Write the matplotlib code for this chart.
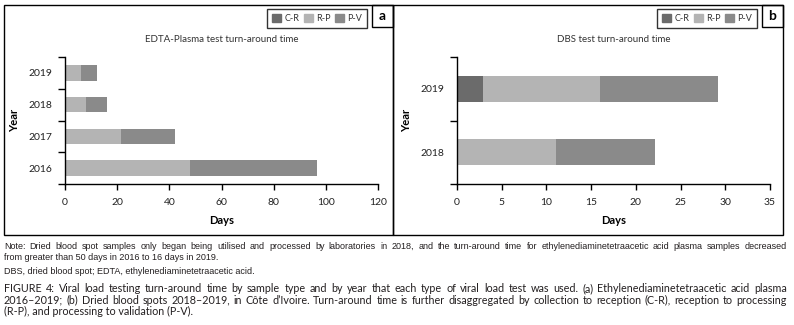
import matplotlib
matplotlib.use('Agg')
import matplotlib.pyplot as plt
from matplotlib.patches import Rectangle, Patch
from matplotlib import font_manager
import numpy as np

# data (days)
years_a = ['2016', '2017', '2018', '2019']
cr_a = [0, 0, 0, 0]
rp_a = [47.9, 21.3, 8.0, 6.1]
pv_a = [48.6, 20.8, 8.1, 6.2]

years_b = ['2018', '2019']
cr_b = [0, 2.9]
rp_b = [11.1, 13.1]
pv_b = [11.05, 13.2]

series = ['C-R', 'R-P', 'P-V']
colors = ['#6b6b6b', '#b4b4b4', '#8a8a8a']

W, H = 794, 325
plt.rcParams['font.family'] = ['Lato', 'DejaVu Sans']
fig = plt.figure(figsize=(W / 100, H / 100), dpi=100)


def fx(px):
    return px / W


def fy(py):
    return 1 - py / H


def panel(left, right, years, cr, rp, pv, xmax, step, title, bar_h):
    ax = fig.add_axes([fx(left), fy(184), fx(right) - fx(left), (184 - 57) / H])
    y = np.arange(len(years))
    ax.barh(y, cr, height=bar_h, color=colors[0])
    ax.barh(y, rp, left=cr, height=bar_h, color=colors[1])
    ax.barh(y, pv, left=np.add(cr, rp), height=bar_h, color=colors[2])
    ax.set_ylim(-0.5, len(years) - 0.5)
    ax.set_xlim(0, xmax)
    ax.set_xticks(np.arange(0, xmax + 1, step))
    ax.set_yticks(y)
    ax.set_yticklabels(years)
    ax.set_yticks(np.arange(len(years) + 1) - 0.5, minor=True)
    ax.tick_params(axis='y', which='major', length=0, pad=9, labelsize=7.5,
                   labelcolor='#222222')
    ax.tick_params(axis='y', which='minor', length=5, width=1, direction='out')
    ax.tick_params(axis='x', length=4, width=1, direction='out', pad=6,
                   labelsize=7.5, labelcolor='#222222')
    for s in ['top', 'right']:
        ax.spines[s].set_visible(False)
    for s in ['left', 'bottom']:
        ax.spines[s].set_linewidth(1)
    ax.set_xlabel('Days', fontweight='bold', fontsize=8, labelpad=6)
    ax.set_ylabel('Year', fontweight='bold', fontsize=8, labelpad=6)
    ax.set_title(title, fontsize=7, pad=11, color='#333333')
    return ax


ax_a = panel(65, 378, years_a, cr_a, rp_a, pv_a, 120, 20,
             'EDTA-Plasma test turn-around time', 0.49)
ax_b = panel(457, 770, years_b, cr_b, rp_b, pv_b, 35, 5,
             'DBS test turn-around time', 0.41)

# panel frames, legends and letters
for x0, x1, letter in [(4, 393, 'a'), (393, 783, 'b')]:
    fig.add_artist(Rectangle((fx(x0), fy(235)), fx(x1) - fx(x0), (235 - 5) / H,
                             transform=fig.transFigure, fill=False, lw=1, ec='black'))
    fig.add_artist(Rectangle((fx(x1 - 21), fy(27)), fx(21), 22 / H,
                             transform=fig.transFigure, fill=False, lw=1, ec='black'))
    fig.text(fx(x1 - 10.5), fy(16), letter, ha='center', va='center',
             fontweight='bold', fontsize=10)
    handles = [Patch(color=c, label=s) for c, s in zip(colors, series)]
    leg = fig.legend(handles=handles, ncol=3, loc='upper right',
                     bbox_to_anchor=(fx(x1 - 26), fy(9)), borderaxespad=0,
                     fontsize=6.5, frameon=True, fancybox=False, handlelength=1.0,
                     handleheight=1.0, handletextpad=0.35, columnspacing=0.5,
                     borderpad=0.55, labelcolor='#333333')
    leg.get_frame().set_edgecolor('black')
    leg.get_frame().set_linewidth(1)

# caption text; font sizes fitted to the widths measured on the reference
fig.canvas.draw()
renderer = fig.canvas.get_renderer()
names = {f.name for f in font_manager.fontManager.ttflist}
narrow = [n for n in ['Liberation Sans Narrow', 'DejaVu Sans Condensed'] if n in names]
note_font = narrow[:1] + ['Liberation Sans', 'DejaVu Sans']
cap_font = ['Lato', 'DejaVu Sans']


def fit_size(text, family, target, base=7.0):
    t = fig.text(0, 0, text, fontsize=base, family=family)
    w = t.get_window_extent(renderer).width
    t.remove()
    return base * target / w


def line(text, y, size, family, justify, x0=4, x1=787):
    if not justify:
        fig.text(fx(x0), fy(y), text, fontsize=size, family=family,
                 va='center', ha='left', color='#231f20')
        return
    words = text.split(' ')
    arts = [fig.text(0, fy(y), w, fontsize=size, family=family, va='center',
                     ha='left', color='#231f20') for w in words]
    widths = [a.get_window_extent(renderer).width for a in arts]
    gap = (x1 - x0 - sum(widths)) / (len(words) - 1)
    x = x0
    for a, w in zip(arts, widths):
        a.set_x(fx(x))
        x += w + gap


note1 = ('Note: Dried blood spot samples only began being utilised and processed by laboratories in 2018, '
         'and the turn-around time for ethylenediaminetetraacetic acid plasma samples decreased')
note2 = 'from greater than 50 days in 2016 to 16 days in 2019.'
abbr = 'DBS, dried blood spot; EDTA, ethylenediaminetetraacetic acid.'
cap1 = ('FIGURE 4: Viral load testing turn-around time by sample type and by year that each type of '
        'viral load test was used. (a) Ethylenediaminetetraacetic acid plasma')
cap2 = ('2016\u20132019; (b) Dried blood spots 2018\u20132019, in C\u00f4te d\u2019Ivoire. Turn-around time is '
        'further disaggregated by collection to reception (C-R), reception to processing')
cap3 = '(R-P), and processing to validation (P-V).'

note_size = min(fit_size(note2, note_font, 214), fit_size(note1, note_font, 780))
abbr_size = fit_size(abbr, note_font, 249)
cap_size = fit_size(cap3, cap_font, 189)

line(note1, 246.5, note_size, note_font, True)
line(note2, 258, note_size, note_font, False)
line(abbr, 272, abbr_size, note_font, False)
line(cap1, 289, cap_size, cap_font, True)
line(cap2, 300, cap_size, cap_font, True)
line(cap3, 311, cap_size, cap_font, False)

fig.savefig('out.png', dpi=100)
